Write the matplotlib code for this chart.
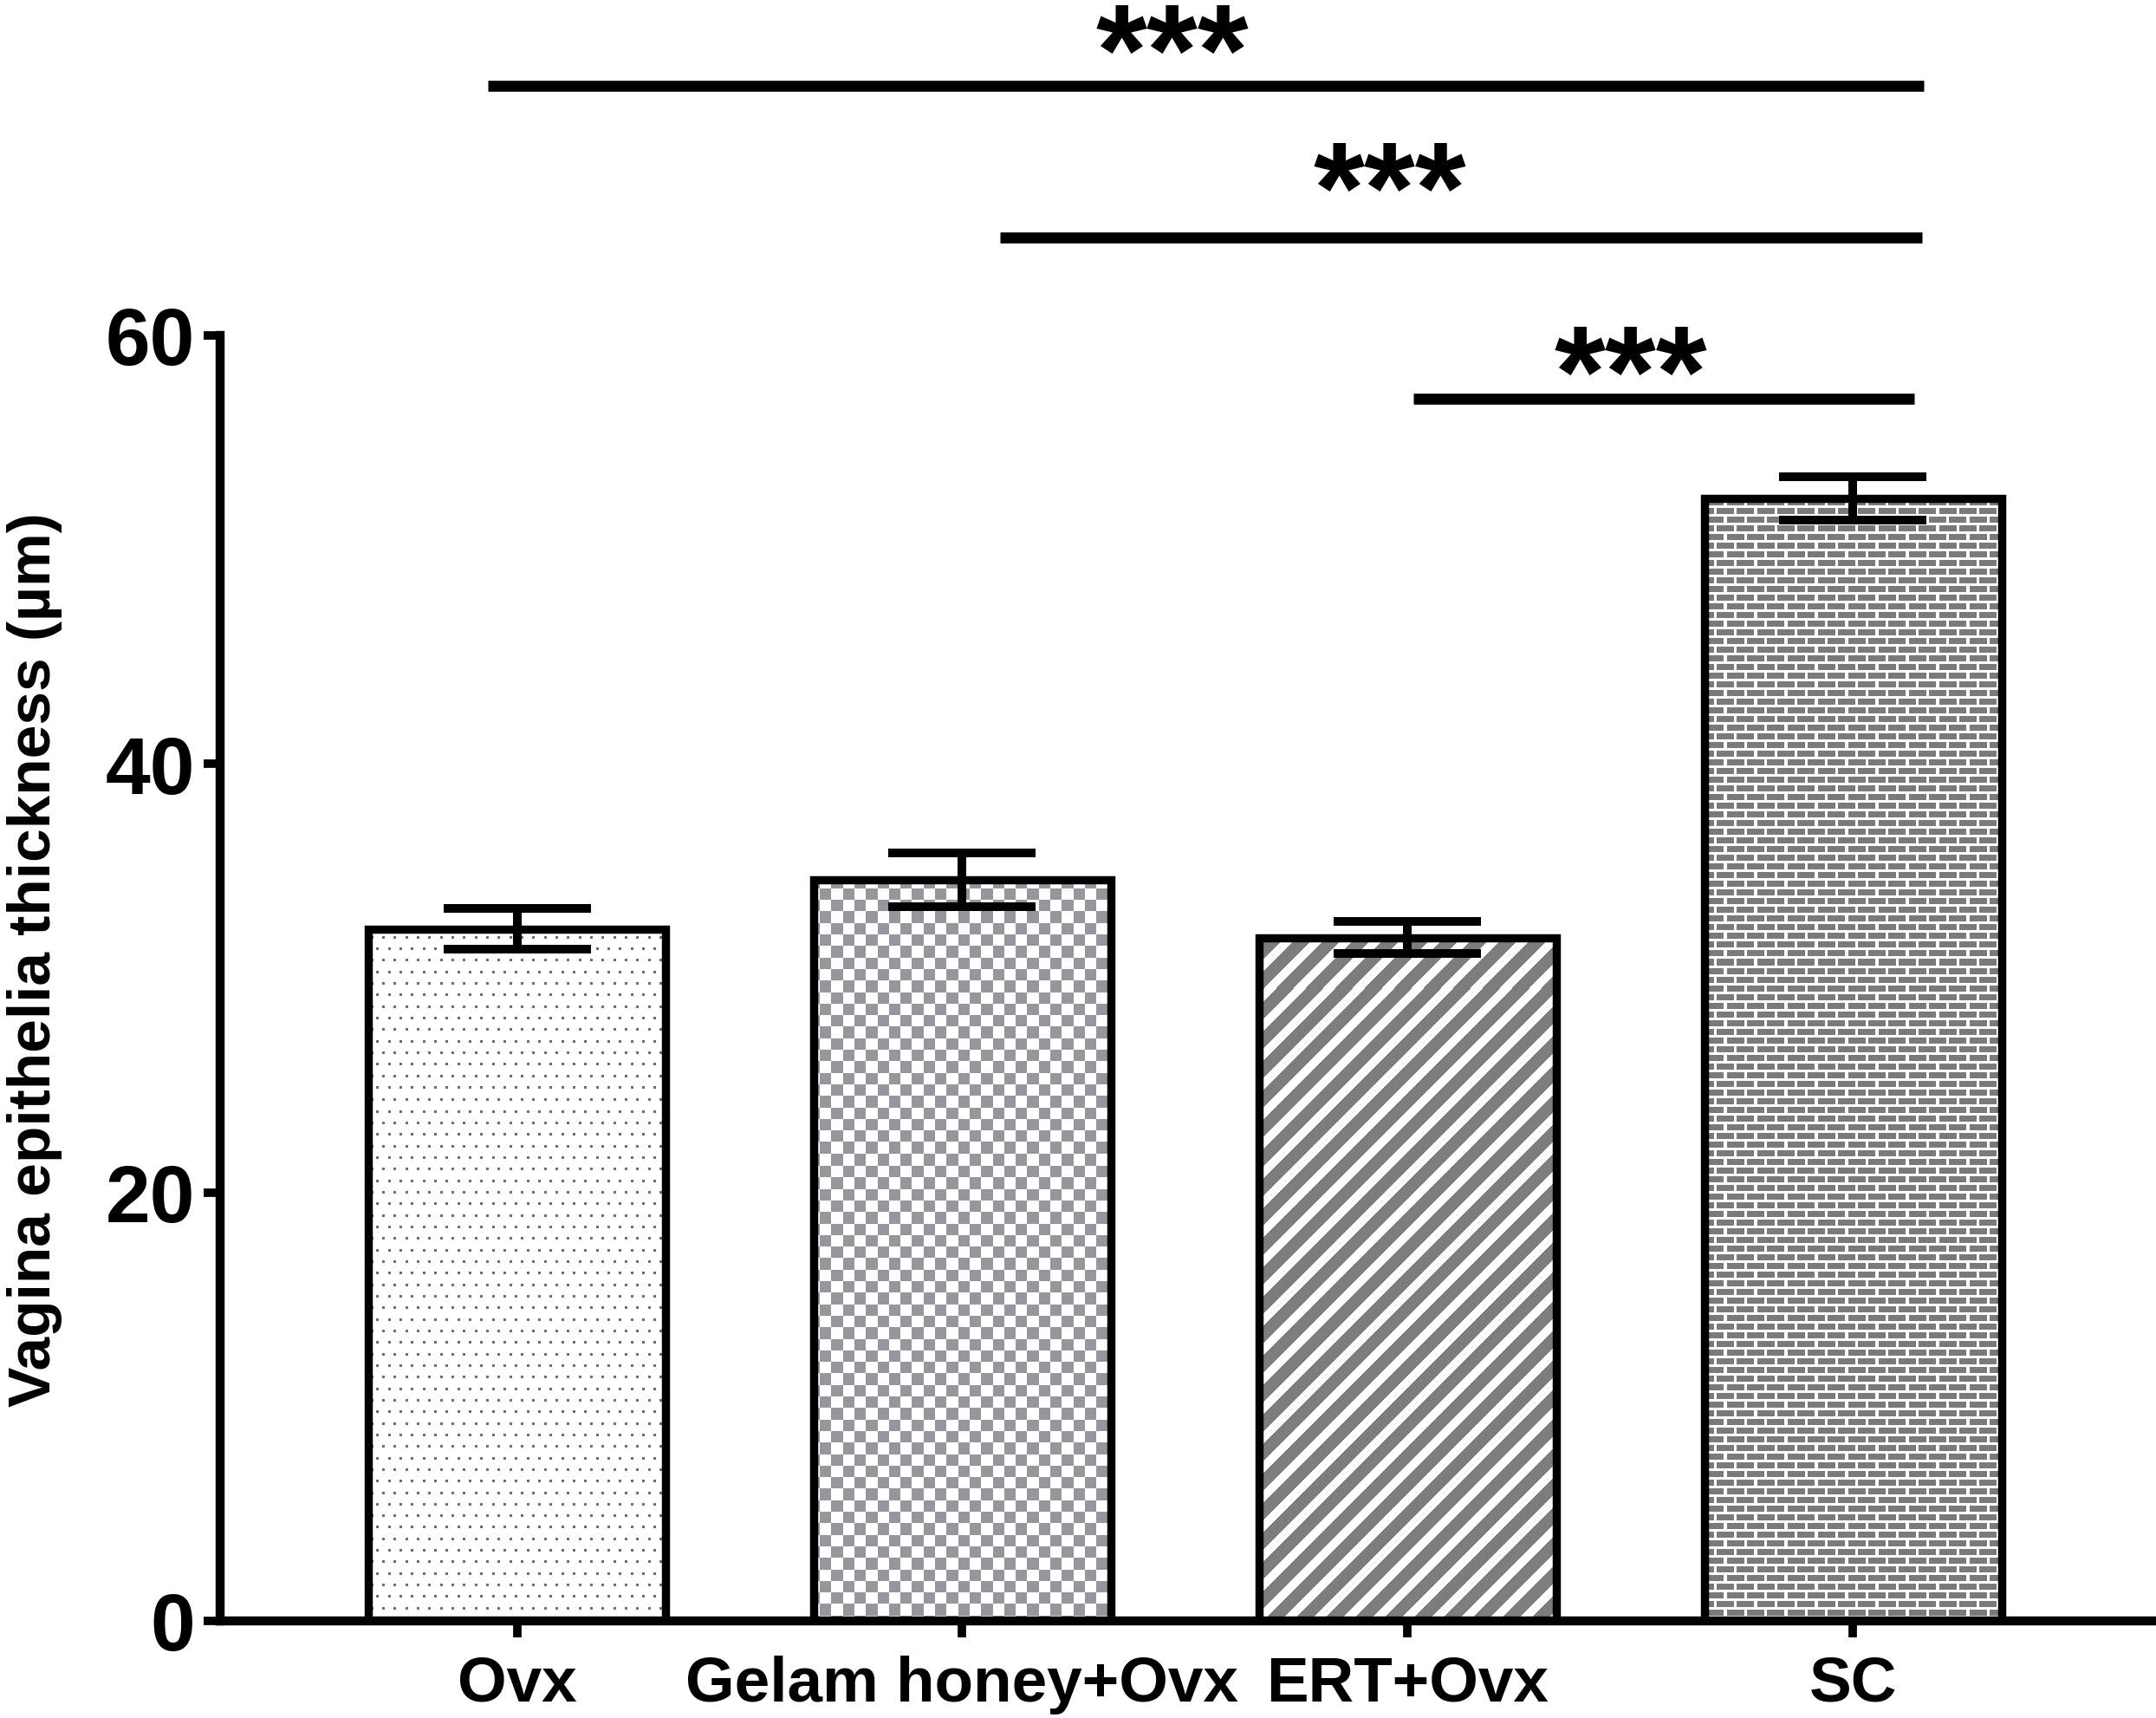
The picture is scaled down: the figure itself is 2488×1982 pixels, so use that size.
import numpy as np
import matplotlib
matplotlib.use("Agg")
import matplotlib.pyplot as plt

plt.rcParams['font.family'] = ['Liberation Sans', 'DejaVu Sans']
plt.rcParams['font.weight'] = 'bold'

groups = ['Ovx', 'Gelam honey+Ovx', 'ERT+Ovx', 'SC']
means = [32.3, 34.6, 31.9, 52.4]
sems = [0.95, 1.25, 0.75, 1.0]

# significance bars: start, end, height, star position
sig_x0 = [-0.065, 1.085, 2.013]
sig_x1 = [3.16, 3.156, 3.138]
sig_y = [71.66, 64.56, 57.04]
star_x = [1.472, 1.961, 2.502]
star_y = [71.25, 64.8, 56.23]
sig_text = ['***', '***', '***']

W, H, DPI = 2488, 1983, 100
fig = plt.figure(figsize=(W / DPI, H / DPI), dpi=DPI)
left, right, top, bottom = 254, 2485, 388, 1871
ax = fig.add_axes([left / W, (H - bottom) / H, (right - left) / W, (bottom - top) / H])
xlim = (-0.6666, 3.675)
ylim = (0, 60)

# fill textures in screen pixels
aw, ah = right - left, bottom - top
yy, xx = np.mgrid[0:ah, 0:aw].astype(float)


def texture(mask, grey):
    img = np.ones((ah, aw, 3))
    img[mask] = np.array(grey) / 255
    return img


r = np.floor(yy / 13.33)
dots = ((yy % 13.33) < 3) & (((xx + (r % 2) * 6.67) % 13.33) < 3)
checks = ((np.floor(xx / 13.3) + np.floor(yy / 13.3)) % 2) == 0
stripes = ((xx + yy) % 34) < 20
rb = np.floor(yy / 10)
bricks = ((yy % 10) < 7) & (((xx + (rb % 2) * 11.67) % 23.33) < 20)

textures = [texture(dots, (110, 110, 110)),
            texture(checks, (150, 150, 156)),
            texture(stripes, (125, 125, 125)),
            texture(bricks, (122, 122, 122))]

x = np.arange(len(groups))
bars = ax.bar(x, means, width=0.667, color='white', edgecolor='none', zorder=1)
for b, tex in zip(bars, textures):
    im = ax.imshow(tex, extent=(xlim[0], xlim[1], ylim[0], ylim[1]),
                   origin='upper', aspect='auto', interpolation='nearest', zorder=2)
    im.set_clip_path(b)
ax.bar(x, means, width=0.667, fill=False, edgecolor='black', linewidth=6.8, zorder=3)
ax.errorbar(x, means, yerr=sems, fmt='none', ecolor='black', elinewidth=7.2,
            capsize=61, capthick=7.2, zorder=4)

for x0, x1, y in zip(sig_x0, sig_x1, sig_y):
    ax.plot([x0, x1], [y, y], color='black', lw=9.1, solid_capstyle='butt', clip_on=False)
for sx, sy, t in zip(star_x, star_y, sig_text):
    ax.text(sx, sy, t, fontsize=109, fontweight='bold', ha='center', va='baseline', clip_on=False)

ax.set_xlim(xlim)
ax.set_ylim(ylim)
ax.set_xticks(x)
ax.set_xticklabels(groups, fontsize=52.5, fontweight='bold')
ax.set_yticks([0, 20, 40, 60])
ax.set_yticklabels(['0', '20', '40', '60'], fontsize=67, fontweight='bold')
ax.tick_params(axis='both', length=14, width=7, direction='out')
ax.tick_params(axis='x', pad=14)
ax.tick_params(axis='y', pad=7)
for s in ['top', 'right']:
    ax.spines[s].set_visible(False)
for s in ['left', 'bottom']:
    ax.spines[s].set_linewidth(7.5)

fig.text(40 / W, 1 - 1107 / H, 'Vagina epithelia thickness (µm)', rotation=90,
         fontsize=50, fontweight='bold', ha='center', va='center')

fig.savefig('out.png', dpi=DPI)
